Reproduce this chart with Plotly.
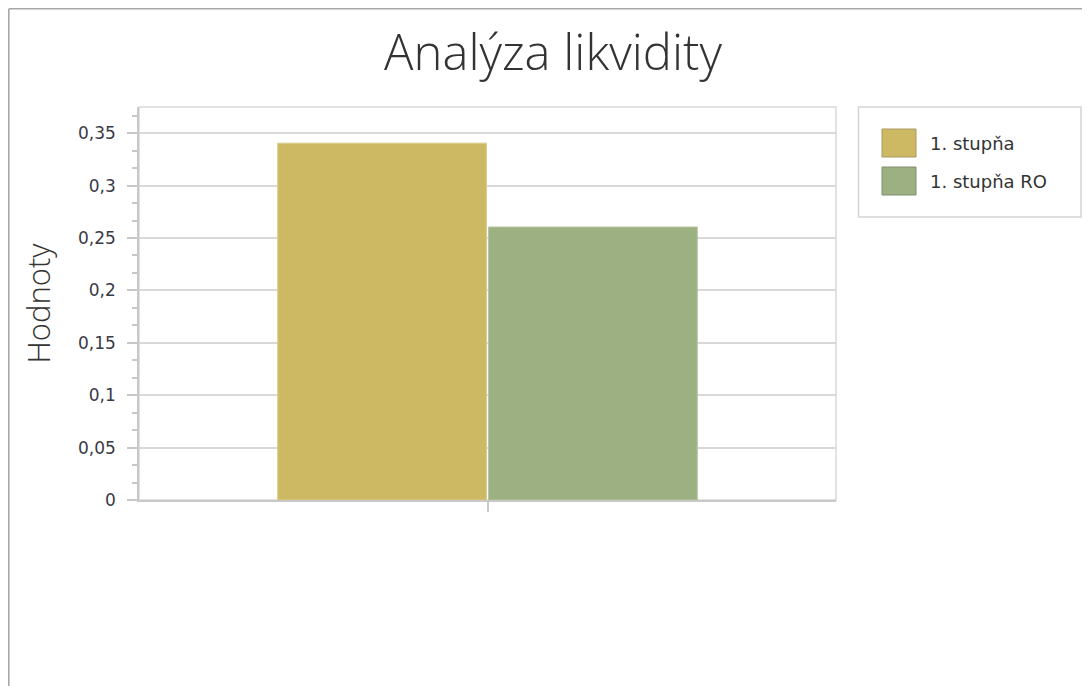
import plotly.graph_objects as go

categories = [""]
series_names = ["1. stupňa", "1. stupňa RO"]
series_values = [[0.3405], [0.2605]]
series_colors = ["#CDB864", "#9DB082"]
series_lines = ["#DCCB8A", "#B6C5A0"]

W, H = 1090, 686
OFF = 8  # page offset of the figure inside the browser
L, R, T, B = 139 - OFF, 836 - OFF, 107 - OFF, 500 - OFF  # plot area in figure pixels

fig = go.Figure()
for name, vals, col, lc in zip(series_names, series_values, series_colors, series_lines):
    fig.add_trace(go.Bar(x=categories, y=vals, name=name, marker=dict(color=col, line=dict(color=lc, width=1))))

def px_x(p):
    return (p - OFF - L) / (R - L)

def px_y(p):
    return (B - (p - OFF)) / (B - T)

shapes = []
annotations = []
# outer border (left and top)
shapes.append(dict(type="line", xref="paper", yref="paper", x0=px_x(8.8), x1=px_x(8.8), y0=px_y(8.8), y1=px_y(720), line=dict(color="#A8A8A8", width=1.6)))
shapes.append(dict(type="line", xref="paper", yref="paper", x0=px_x(8.8), x1=px_x(1120), y0=px_y(8.8), y1=px_y(8.8), line=dict(color="#A8A8A8", width=1.6)))
# plot area border
shapes.append(dict(type="rect", xref="paper", yref="paper", x0=0, x1=1, y0=0, y1=1, line=dict(color="#D9D9D9", width=1.5), layer="below"))
# custom legend box
shapes.append(dict(type="rect", xref="paper", yref="paper", x0=px_x(858.5), x1=px_x(1081), y0=px_y(107), y1=px_y(217), line=dict(color="#D4D4D4", width=1.5), fillcolor="white"))
for i, (name, col) in enumerate(zip(series_names, series_colors)):
    cy = 143 + 38 * i
    shapes.append(dict(type="rect", xref="paper", yref="paper", x0=px_x(882), x1=px_x(916), y0=px_y(cy - 14), y1=px_y(cy + 14),
                       fillcolor=col, line=dict(color="#A89A60" if i == 0 else "#7F8F6E", width=1)))
    annotations.append(dict(xref="paper", yref="paper", x=px_x(928), y=px_y(cy), text=name, showarrow=False,
                            xanchor="left", yanchor="middle", font=dict(family="DejaVu Sans", size=18, color="#333333")))

fig.update_layout(
    width=W, height=H,
    margin=dict(l=L, r=W - R, t=T, b=H - B, pad=0),
    paper_bgcolor="white", plot_bgcolor="white",
    separators=",.",
    showlegend=False,
    barmode="group", bargap=0.395, bargroupgap=0.01,
    title=dict(text="Analýza likvidity", x=0.5, xanchor="center", xref="container", y=1 - 45 / H, yanchor="middle",
               font=dict(family="Open Sans", size=49, color="#333333", weight=300)),
    shapes=shapes, annotations=annotations,
    font=dict(family="DejaVu Sans", color="#3A3A3A"),
)
fig.update_xaxes(showgrid=False, showline=True, linecolor="#C8C8C8", linewidth=1.5,
                 ticks="outside", ticklen=10, tickcolor="#C8C8C8", tickwidth=1.5, showticklabels=False, fixedrange=True)
fig.update_yaxes(range=[0, 0.375], dtick=0.05, tick0=0, showgrid=True, gridcolor="#D9D9D9", gridwidth=1.5,
                 showline=True, linecolor="#C8C8C8", linewidth=1.5, zeroline=False,
                 ticks="outside", ticklen=10, tickcolor="#C8C8C8", tickwidth=1.5, ticklabelstandoff=8,
                 tickfont=dict(family="DejaVu Sans", size=17, color="#3A3A47"),
                 minor=dict(ticks="outside", ticklen=5, dtick=0.05 / 3, tick0=0, tickcolor="#C8C8C8", showgrid=False),
                 title=dict(text="Hodnoty", font=dict(family="Open Sans", size=31, color="#333333", weight=300), standoff=18))

fig.write_html("out.html")
